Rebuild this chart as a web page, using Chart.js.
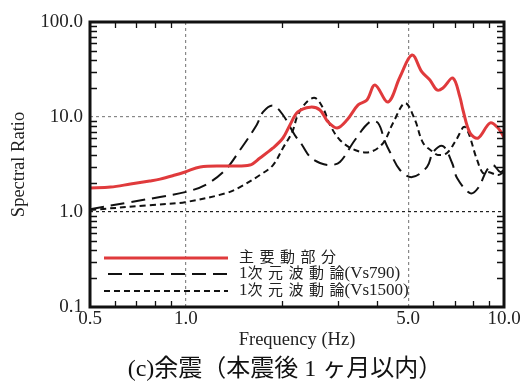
<!DOCTYPE html>
<html>
<head>
<meta charset="utf-8">
<script src="https://cdn.jsdelivr.net/npm/chart.js@4.4.0/dist/chart.umd.min.js"></script>
<style>
  html, body { margin: 0; padding: 0; background: #fff; }
  #wrap { width: 525px; height: 383px; }
</style>
</head>
<body>
<div id="wrap"><canvas id="chart" width="525" height="383"></canvas></div>
<script>
// ── data ─────────────────────────────────────────────────────────────
const LABELS = ["主要動部分", "1次元波動論(Vs790)", "1次元波動論(Vs1500)"];

const mainFreq = [0.5, 0.58, 0.67, 0.77, 0.83, 0.925, 0.995, 1.11, 1.34, 1.59, 1.71, 1.88, 2.02, 2.125,
  2.25, 2.46, 2.64, 2.8, 2.99, 3.21, 3.48, 3.71, 3.93, 4.32, 4.71, 5.14, 5.52, 5.85, 6.16, 6.43,
  6.91, 7.27, 7.43, 7.82, 8.29, 9.04, 9.58, 10.0];
const mainRatio = [1.79, 1.83, 1.97, 2.12, 2.22, 2.45, 2.64, 2.98, 3.05, 3.12, 3.7, 4.72, 6.01, 8.24,
  11.3, 12.7, 11.85, 8.86, 7.66, 9.3, 13.4, 15.1, 21.7, 14.4, 26.4, 44.9, 29.8, 24.5, 19.2, 20.2,
  25.7, 16.2, 11.85, 6.79, 6.0, 8.65, 7.66, 6.1];

const vs790Freq = [0.5, 0.67, 0.83, 0.995, 1.15, 1.33, 1.48, 1.67, 1.75, 1.88, 2.02, 2.2, 2.32, 2.46,
  2.64, 2.84, 3.05, 3.4, 3.79, 4.02, 4.23, 4.38, 4.71, 5.14, 5.73, 5.99, 6.43, 6.87, 7.12, 7.82,
  8.29, 8.84, 9.24, 9.72, 10.0];
const vs790Ratio = [1.07, 1.27, 1.44, 1.62, 1.92, 2.77, 4.49, 8.24, 11.3, 13.2, 10.5, 6.46, 5.07, 3.79,
  3.28, 3.12, 3.36, 5.73, 8.9, 8.65, 5.46, 4.28, 2.77, 2.33, 2.98, 4.28, 4.95, 3.28, 2.28, 1.58,
  1.79, 2.77, 3.12, 2.64, 2.77];

const vs1500Freq = [0.5, 0.77, 0.995, 1.34, 1.48, 1.71, 1.88, 2.02, 2.16, 2.25, 2.4, 2.55, 2.7, 2.84,
  3.05, 3.4, 3.79, 4.17, 4.48, 4.89, 5.25, 5.57, 5.99, 6.2, 6.62, 7.07, 7.54, 8.23, 8.59, 8.91,
  9.58, 10.0];
const vs1500Ratio = [1.05, 1.18, 1.27, 1.58, 1.83, 2.45, 3.12, 4.72, 6.95, 10.5, 14.4, 15.85, 12.4, 8.24,
  5.73, 4.49, 4.28, 5.32, 8.65, 14.0, 9.3, 5.32, 4.28, 3.98, 4.18, 5.73, 7.85, 3.53, 2.57, 2.64,
  2.45, 2.64];

const X_TICKS = [0.5, 1, 5, 10];
const Y_TICKS = [0.1, 1, 10, 100];
const X_MINOR = [0.6, 0.7, 0.8, 0.9, 2, 3, 4, 6, 7, 8, 9];
const Y_MINOR = [0.2, 0.3, 0.4, 0.5, 0.6, 0.7, 0.8, 0.9, 2, 3, 4, 5, 6, 7, 8, 9,
  20, 30, 40, 50, 60, 70, 80, 90];

const CAPTION = "(c)余震（本震後 1 ヶ月以内）";
const SERIF = "'Liberation Serif', 'Noto Sans CJK JP', serif";
const RED = "#e03a3c";
const INK = "#111";

const pts = (fx, fy) => fx.map((f, i) => ({ x: f, y: fy[i] }));
const isCjk = (ch) => ch && ch.charCodeAt(0) > 0x2e80;

// CJK glyphs: smaller and tracked apart; latin glyphs: larger, no tracking
function legendText(ctx, text, x, y) {
  const chars = [...text];
  let cx = x;
  chars.forEach((ch, i) => {
    const cjk = isCjk(ch);
    ctx.font = (cjk ? "15px " : "17px ") + SERIF;
    ctx.fillText(ch, cx, y);
    cx += ctx.measureText(ch).width + (cjk && isCjk(chars[i + 1]) ? 5.5 : 0);
  });
}

// ── frame, inward ticks, legend, caption ─────────────────────────────
const framePlugin = {
  id: "frame",
  afterDraw(chart) {
    const { ctx, chartArea: a, scales: { x, y } } = chart;
    ctx.save();
    ctx.strokeStyle = INK;
    ctx.lineWidth = 1.3;
    ctx.beginPath();
    X_MINOR.forEach(v => {
      const px = Math.round(x.getPixelForValue(v)) + 0.5;
      ctx.moveTo(px, a.bottom); ctx.lineTo(px, a.bottom - 6);
      ctx.moveTo(px, a.top); ctx.lineTo(px, a.top + 6);
    });
    Y_MINOR.forEach(v => {
      const py = Math.round(y.getPixelForValue(v)) + 0.5;
      ctx.moveTo(a.left, py); ctx.lineTo(a.left + 7, py);
      ctx.moveTo(a.right, py); ctx.lineTo(a.right - 7, py);
    });
    ctx.stroke();

    ctx.lineWidth = 3;
    ctx.strokeRect(a.left, a.top, a.right - a.left, a.bottom - a.top);

    // legend inside plot, lower left
    const x0 = a.left + 14, x1 = a.left + 138;
    const rowY = [a.bottom - 49, a.bottom - 33, a.bottom - 16];
    chart.data.datasets.forEach((ds, i) => {
      ctx.beginPath();
      ctx.strokeStyle = ds.borderColor;
      ctx.lineWidth = ds.borderWidth;
      ctx.setLineDash(ds.borderDash || []);
      ctx.moveTo(x0 + (i === 1 ? 4 : 0), rowY[i]);
      ctx.lineTo(x1, rowY[i]);
      ctx.stroke();
      ctx.setLineDash([]);
      ctx.fillStyle = "#222";
      ctx.textBaseline = "middle";
      legendText(ctx, ds.label, x1 + 11, rowY[i]);
    });

    // caption under the axis title
    ctx.font = "24px " + SERIF;
    ctx.fillStyle = "#111";
    ctx.textBaseline = "middle";
    const w = ctx.measureText(CAPTION).width;
    ctx.fillText(CAPTION, (a.left + a.right) / 2 - 12 - w / 2, chart.height - 13);
    ctx.restore();
  },
};

new Chart(document.getElementById("chart"), {
  type: "line",
  data: {
    datasets: [
      { label: LABELS[0], data: pts(mainFreq, mainRatio), borderColor: RED, borderWidth: 3 },
      { label: LABELS[1], data: pts(vs790Freq, vs790Ratio), borderColor: INK, borderWidth: 2, borderDash: [14, 7] },
      { label: LABELS[2], data: pts(vs1500Freq, vs1500Ratio), borderColor: INK, borderWidth: 2, borderDash: [6, 4] },
    ],
  },
  options: {
    responsive: true,
    maintainAspectRatio: false,
    animation: false,
    layout: { padding: { top: 22, right: 21, left: 0, bottom: 31 } },
    elements: { point: { radius: 0 }, line: { tension: 0.35, fill: false } },
    plugins: {
      legend: { display: false },
      tooltip: { enabled: false },
    },
    scales: {
      x: {
        type: "logarithmic",
        min: 0.5,
        max: 10,
        afterBuildTicks: (s) => { s.ticks = X_TICKS.map(v => ({ value: v })); },
        afterFit: (s) => { s.height = 45; },
        ticks: {
          color: "#222",
          font: { family: SERIF, size: 19 },
          padding: 1,
          autoSkip: false,
          maxRotation: 0,
          callback: (v) => Number(v).toFixed(1),
        },
        grid: {
          drawTicks: false,
          lineWidth: 1.2,
          color: (c) => (c.tick && (c.tick.value === 1 || c.tick.value === 5)) ? "#888" : "rgba(0,0,0,0)",
        },
        border: { display: false, dash: [3, 3] },
        title: {
          display: true,
          text: "Frequency (Hz)",
          color: "#222",
          font: { family: SERIF, size: 18.5 },
          padding: { top: 0, bottom: 1 },
        },
      },
      y: {
        type: "logarithmic",
        min: 0.1,
        max: 100,
        afterBuildTicks: (s) => { s.ticks = Y_TICKS.map(v => ({ value: v })); },
        afterFit: (s) => { s.width = 90; },
        ticks: {
          color: "#222",
          font: { family: SERIF, size: 19 },
          padding: 7,
          autoSkip: false,
          callback: (v) => Number(v).toFixed(1),
        },
        grid: {
          drawTicks: false,
          lineWidth: 1.2,
          color: (c) => {
            const v = c.tick && c.tick.value;
            if (v === 10) return "#888";
            if (v === 1) return "#222";
            return "rgba(0,0,0,0)";
          },
        },
        border: { display: false, dash: [3, 3] },
        title: {
          display: true,
          text: "Spectral Ratio",
          color: "#222",
          font: { family: SERIF, size: 18.5 },
          padding: { top: 8, bottom: 0 },
        },
      },
    },
  },
  plugins: [framePlugin],
});
</script>
</body>
</html>
